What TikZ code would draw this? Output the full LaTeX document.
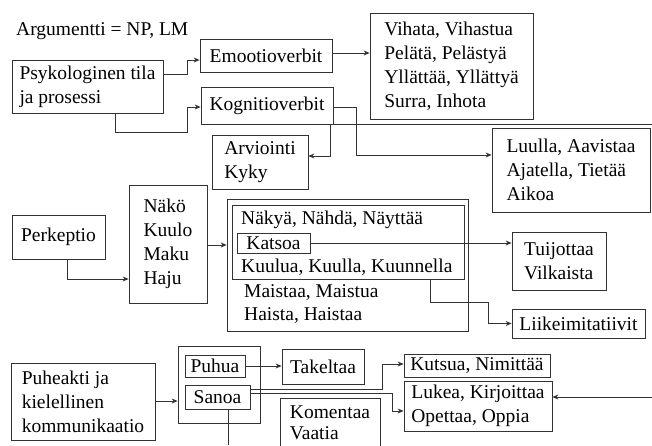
\documentclass[tikz,border=0pt]{standalone}
\usepackage{fontspec}
\setmainfont{Liberation Serif}
\usetikzlibrary{arrows.meta}
\tikzset{
  box/.style={draw=black!80, line width=0.8pt, inner sep=0pt, align=left},
  plain/.style={inner sep=0pt, anchor=west},
  wire/.style={draw=black!80, line width=0.8pt},
  arr/.style={wire, -{Stealth[length=6pt,width=5pt,inset=2pt]}}
}

\begin{document}
\begin{tikzpicture}[x=1pt, y=-1pt, every node/.style={font=\fontsize{19.5}{24}\selectfont}]
  \useasboundingbox (0,0) rectangle (652,445);
  \coordinate (oikea) at (652,0);
  \coordinate (ala) at (0,445);

  %% psykologinen
  \node[plain] (arg) at (16,31) {Argumentti = NP, LM};
  \node[box, minimum width=151, minimum height=53] (psy) at (87.5,86.5) {Psykologinen tila\\ja prosessi};
  \node[box, minimum width=132, minimum height=33] (emo) at (266,55.5) {Emootioverbit};
  \node[box, minimum width=132, minimum height=37] (kog) at (267,105.5) {Kognitioverbit};
  \node[box, minimum width=163, minimum height=106] (vih) at (451.5,66) {Vihata, Vihastua\\Pelätä, Pelästyä\\Yllättää, Yllättyä\\Surra, Inhota};
  \node[box, minimum width=96, minimum height=54] (arv) at (260,162) {Arviointi\\Kyky};
  \node[box, minimum width=158, minimum height=84] (luu) at (571,170) {Luulla, Aavistaa\\Ajatella, Tietää\\Aikoa};

  \draw[arr] (psy.east |- 0,74) -- (187,74) |- (emo.west |- 0,60);
  \draw[arr] (115,0 |- psy.south) |- (187,132) |- (kog.west |- 0,107);
  \draw[arr] (emo.east |- 0,53) -- (vih.west |- 0,53);
  \draw[arr] (kog.east |- 0,107) -| (356,155) -- (luu.west |- 0,155);
  \draw[arr] (330,0 |- kog.south) |- (arv.east |- 0,156);
  \draw[wire] (kog.south east) -- (oikea |- kog.south east);

  %% perkeptio
  \node[box, minimum width=93, minimum height=44] (per) at (58.5,237) {Perkeptio};
  \node[box, minimum width=78, minimum height=118] (nak) at (168,244) {Näkö\\Kuulo\\Maku\\Haju};
  \node[box, minimum width=241, minimum height=132] (ulko) at (347.5,265) {};
  \node[box, minimum width=232, minimum height=74] (sisa) at (348,242) {};
  \node[plain] (naky) at (241,220) {Näkyä, Nähdä, Näyttää};
  \node[box, minimum width=73, minimum height=20] (kat) at (273.5,243) {Katsoa};
  \node[plain] (kuul) at (241,267) {Kuulua, Kuulla, Kuunnella};
  \node[plain] (mais) at (244,293) {Maistaa, Maistua};
  \node[plain] (hais) at (244,316) {Haista, Haistaa};
  \node[box, minimum width=94, minimum height=58] (tui) at (559,261) {Tuijottaa\\Vilkaista};
  \node[box, minimum width=133, minimum height=29] (lii) at (578.5,323.5) {Liikeimitatiivit};

  \draw[arr] (67,0 |- per.south) |- (nak.west |- 0,279);
  \draw[arr] (nak.east |- 0,245) -- (ulko.west |- 0,245);
  \draw[arr] (kat.east) -- (tui.west |- kat.east);
  \draw[arr] (430,0 |- sisa.south) |- (488,302) |- (lii.west);

  %% puheakti
  \node[box, minimum width=144, minimum height=77] (puh) at (83,401.5) {Puheakti ja\\kielellinen\\kommunikaatio};
  \node[box, minimum width=82, minimum height=77] (ryh) at (219,384.5) {};
  \node[box, minimum width=60, minimum height=22] (puhua) at (215,366) {Puhua};
  \node[box, minimum width=65, minimum height=24] (sanoa) at (217.5,397) {Sanoa};
  \node[box, minimum width=82, minimum height=35] (tak) at (323,366.5) {Takeltaa};
  \node[box, minimum width=100, minimum height=50] (kom) at (330,423) {Komentaa\\[-3pt]Vaatia};
  \node[box, minimum width=146, minimum height=23] (kut) at (477,365.5) {Kutsua, Nimittää};
  \node[box, minimum width=148, minimum height=50] (luk) at (478,406) {Lukea, Kirjoittaa\\Opettaa, Oppia};

  \draw[arr] (puh.east |- 0,401) -- (ryh.west |- 0,401);
  \draw[arr] (puhua.east) -- (tak.west |- puhua.east);
  \draw[arr] (sanoa.east |- 0,389) -| (382,364) -- (kut.west |- 0,364);
  \draw[arr] (sanoa.east |- 0,393) -| (392,411) -- (luk.west |- 0,411);
  \draw[arr] (oikea |- 0,397) -- (luk.east |- 0,397);
  \draw[wire] (228,0 |- sanoa.south) -- (228,0 |- ala);
\end{tikzpicture}
\end{document}
